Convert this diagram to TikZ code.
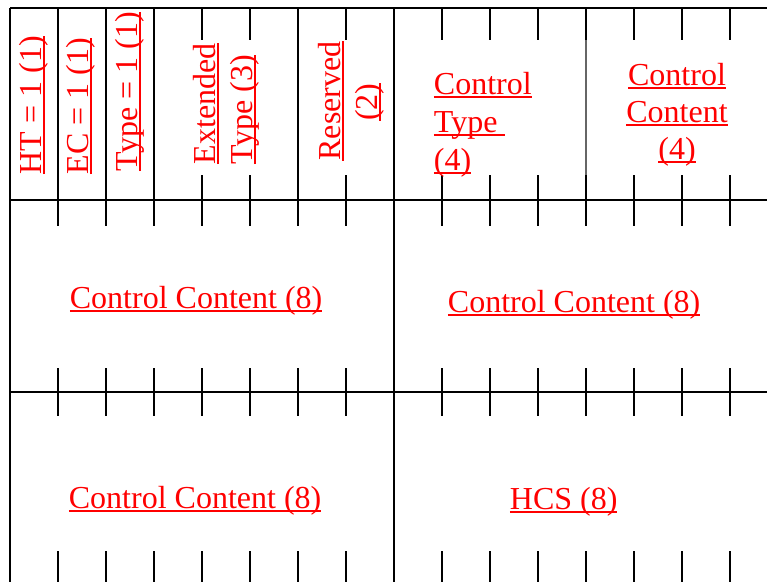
\documentclass[tikz,border=0pt]{standalone}
\usepackage{fontspec}
\setmainfont{Liberation Serif}
% underline at a fixed depth, as a word processor draws it
\newcommand{\wul}[1]{\setbox0=\hbox{#1}\rlap{\rule[-4pt]{\wd0}{2pt}}\box0}

\begin{document}
\begin{tikzpicture}[x=1pt,y=-1pt,line width=1.8pt,
		lbl/.style={text=red,inner sep=0pt,font=\fontsize{32}{37}\selectfont}]
		\useasboundingbox (0,0) rectangle (767,581);
		\clip (0,0) rectangle (767,581);
		
		% draw horizontal lines
		\foreach \y in {8,200,392}
		\draw (10,\y) -- (780,\y);
		
		% draw full vertical lines
		\draw (10,8) -- (10,590);
		\draw (394,8) -- (394,590);
		\foreach \x in {58,106,154,298}
		\draw (\x,8) -- (\x,200);
		\draw[black!60,line width=1.3pt] (586,8) -- (586,188);
		
		% draw tick marks, first row
		\foreach \x in {202,250,346,442,490,538,586,634,682,730}
		{
			\draw (\x,8) -- (\x,40);
			\draw (\x,175) -- (\x,200);
		}
		
		% draw tick marks, second and third row
		\foreach \x in {58,106,154,202,250,298,346,442,490,538,586,634,682,730}
		{
			\draw (\x,200) -- (\x,226);
			\draw (\x,368) -- (\x,392);
			\draw (\x,392) -- (\x,416);
			\draw (\x,551) -- (\x,590);
		}
		
		% draw labels, first row
		\node[lbl,rotate=90,anchor=base west] (ht) at (41,175) {\wul{HT = 1 (1)}};
		\node[lbl,rotate=90,anchor=base west] (ec) at (88,175) {\wul{EC = 1 (1)}};
		\node[lbl,rotate=90,anchor=base west] (type) at (137,172) {\wul{Type = 1 (1)}};
		\node[lbl,rotate=90,anchor=base west] (ext1) at (215,165) {\wul{Extended}};
		\node[lbl,rotate=90,anchor=base west] (ext2) at (252,165) {\wul{Type (3)}};
		\node[lbl,rotate=90,anchor=base] (res1) at (340,101) {\wul{Reserved}};
		\node[lbl,rotate=90,anchor=base] (res2) at (377,102) {\wul{(2)}};
		\node[lbl,anchor=base west] (ctype1) at (433,94) {\wul{Control}};
		\node[lbl,anchor=base west] (ctype2) at (433,132) {\wul{Type\ }};
		\node[lbl,anchor=base west] (ctype3) at (433,170) {\wul{(4)}};
		\node[lbl,anchor=base] (ccont1) at (677,85) {\wul{Control}};
		\node[lbl,anchor=base] (ccont2) at (677,122) {\wul{Content}};
		\node[lbl,anchor=base] (ccont3) at (677,159) {\wul{(4)}};
		
		% draw labels, second and third row
		\node[lbl,anchor=base west] (cc8a) at (69,308) {\wul{Control Content (8)}};
		\node[lbl,anchor=base west] (cc8b) at (447,312) {\wul{Control Content (8)}};
		\node[lbl,anchor=base west] (cc8c) at (68,508) {\wul{Control Content (8)}};
		\node[lbl,anchor=base west] (hcs) at (509,509) {\wul{HCS (8)}};
\end{tikzpicture}
\end{document}
